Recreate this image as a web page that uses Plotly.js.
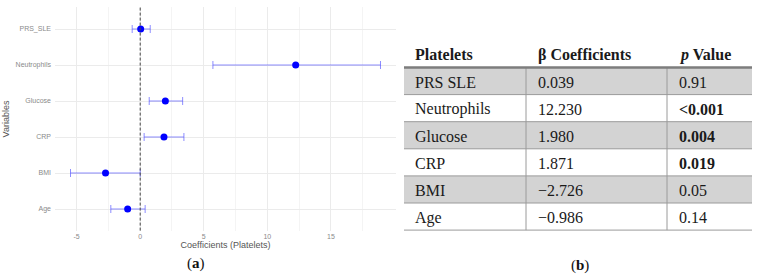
<!DOCTYPE html>
<html>
<head>
<meta charset="utf-8">
<script src="https://cdn.plot.ly/plotly-3.0.1.min.js"></script>
<style>html,body{margin:0;padding:0;background:#fff;}#chart{width:759px;height:277px;}</style>
</head>
<body>
<div id="chart"></div>
<script>
// ---- data ----
const variables = ["PRS_SLE", "Neutrophils", "Glucose", "CRP", "BMI", "Age"];
const tableLabels = ["PRS SLE", "Neutrophils", "Glucose", "CRP", "BMI", "Age"];
const coefficients = [0.039, 12.230, 1.980, 1.871, -2.726, -0.986];
const ciLower = [-0.63, 5.72, 0.71, 0.31, -5.48, -2.31];
const ciUpper = [0.79, 18.90, 3.34, 3.44, 0.00, 0.39];
const coefText = ["0.039", "12.230", "1.980", "1.871", "\u22122.726", "\u22120.986"];
const pValues = ["0.91", "<0.001", "0.004", "0.019", "0.05", "0.14"];
const pSignificant = [false, true, true, true, false, false];
const headers = ["Platelets", "\u03b2 Coefficients", "<i>p</i> Value"];
const xTicks = [-5, 0, 5, 10, 15];

// ---- derived ----
const W = 759, H = 277;
const px = x => x / W;
const py = y => 1 - y / H;
const errPlus = coefficients.map((c, i) => ciUpper[i] - c);
const errMinus = coefficients.map((c, i) => c - ciLower[i]);
const esc = s => s.replace(/</g, "&lt;");
const pCells = pValues.map((p, i) => pSignificant[i] ? "<b>" + esc(p) + "</b>" : esc(p));
const columns = [tableLabels, coefText, pCells];

// table geometry (pixels)
const tLeft = 404, tRight = 752;
const colEdges = [404, 526, 667, 752];
const textX = [413, 536, 677];
const headerY = 55;
const rowTop = 67.5, rowH = 27.1;
const nRows = tableLabels.length;
const shade = "#d3d3d3";
const serif = "Liberation Serif, Times New Roman, serif";

const shapes = [
  {type: "line", xref: "x", yref: "y domain", x0: 0, x1: 0, y0: 0, y1: 1,
   line: {color: "#444", width: 1, dash: "3px,2px"}}
];
const annotations = [];

// row fills & lines
for (let r = 0; r < nRows; r++) {
  const y0 = rowTop + r * rowH, y1 = y0 + rowH;
  if (r % 2 === 0) {
    shapes.push({type: "rect", xref: "paper", yref: "paper", x0: px(tLeft), x1: px(tRight),
      y0: py(y1), y1: py(y0), fillcolor: shade, line: {width: 0}, layer: "below"});
  }
  shapes.push({type: "line", xref: "paper", yref: "paper", x0: px(tLeft), x1: px(tRight),
    y0: py(y1), y1: py(y1), line: {color: "#9a9a9a", width: 1}});
  for (let c = 0; c < 3; c++) {
    annotations.push({xref: "paper", yref: "paper", x: px(textX[c]), y: py(y0 + rowH / 2 + 1),
      xanchor: "left", yanchor: "middle", text: columns[c][r], showarrow: false,
      font: {family: serif, size: 16, color: "#1a1a1a"}});
  }
}
// vertical dividers
[colEdges[1], colEdges[2]].forEach(x => {
  shapes.push({type: "line", xref: "paper", yref: "paper", x0: px(x), x1: px(x),
    y0: py(rowTop + nRows * rowH), y1: py(rowTop), line: {color: "#9a9a9a", width: 1}});
});
// thick header rule
shapes.push({type: "line", xref: "paper", yref: "paper", x0: px(tLeft), x1: px(tRight),
  y0: py(rowTop), y1: py(rowTop), line: {color: "#7d7d7d", width: 2.5}});
// header text
headers.forEach((h, c) => {
  annotations.push({xref: "paper", yref: "paper", x: px(textX[c]), y: py(headerY),
    xanchor: "left", yanchor: "middle", text: "<b>" + h + "</b>", showarrow: false,
    font: {family: serif, size: 16, color: "#1a1a1a"}});
});
// panel labels
annotations.push({xref: "paper", yref: "paper", x: px(196), y: py(263), xanchor: "center", yanchor: "middle",
  text: "(<b>a</b>)", showarrow: false, font: {family: serif, size: 15, color: "#111"}});
annotations.push({xref: "paper", yref: "paper", x: px(580), y: py(265), xanchor: "center", yanchor: "middle",
  text: "(<b>b</b>)", showarrow: false, font: {family: serif, size: 15, color: "#111"}});

const forest = {
  type: "scatter",
  mode: "markers",
  x: coefficients,
  y: variables,
  marker: {color: "#0000ff", size: 7},
  error_x: {
    type: "data", symmetric: false,
    array: errPlus, arrayminus: errMinus,
    color: "rgba(80,80,255,0.65)", thickness: 1, width: 4
  },
  hoverinfo: "x+y",
  showlegend: false
};

const layout = {
  width: W, height: H,
  margin: {l: 0, r: 0, t: 0, b: 0},
  paper_bgcolor: "#ffffff",
  plot_bgcolor: "#ffffff",
  showlegend: false,
  font: {family: "Liberation Sans, Arial, sans-serif"},
  xaxis: {
    domain: [px(55), px(396)],
    range: [-6.70, 20.12],
    tickvals: xTicks,
    ticktext: xTicks.map(String),
    showgrid: true, gridcolor: "#ebebeb", gridwidth: 1,
    minor: {tickvals: [-2.5, 2.5, 7.5, 12.5, 17.5], showgrid: true, gridcolor: "#f4f4f4", gridwidth: 1},
    zeroline: false, showline: false, ticks: "",
    tickfont: {size: 7, color: "#8a8a8a"},
    title: {text: "Coefficients (Platelets)", font: {size: 9, color: "#555"}, standoff: 2},
    fixedrange: true
  },
  yaxis: {
    domain: [py(230.6), py(7.4)],
    type: "category",
    categoryorder: "array",
    categoryarray: variables.slice().reverse(),
    range: [-0.6, 5.6],
    showgrid: true, gridcolor: "#ebebeb", gridwidth: 1,
    zeroline: false, showline: false, ticks: "",
    ticklabelstandoff: 3,
    tickfont: {size: 7, color: "#8a8a8a"},
    title: {text: "Variables", font: {size: 9, color: "#555"}, standoff: 4},
    fixedrange: true
  },
  shapes: shapes,
  annotations: annotations
};

Plotly.newPlot("chart", [forest], layout, {displayModeBar: false, staticPlot: true});
</script>
</body>
</html>
